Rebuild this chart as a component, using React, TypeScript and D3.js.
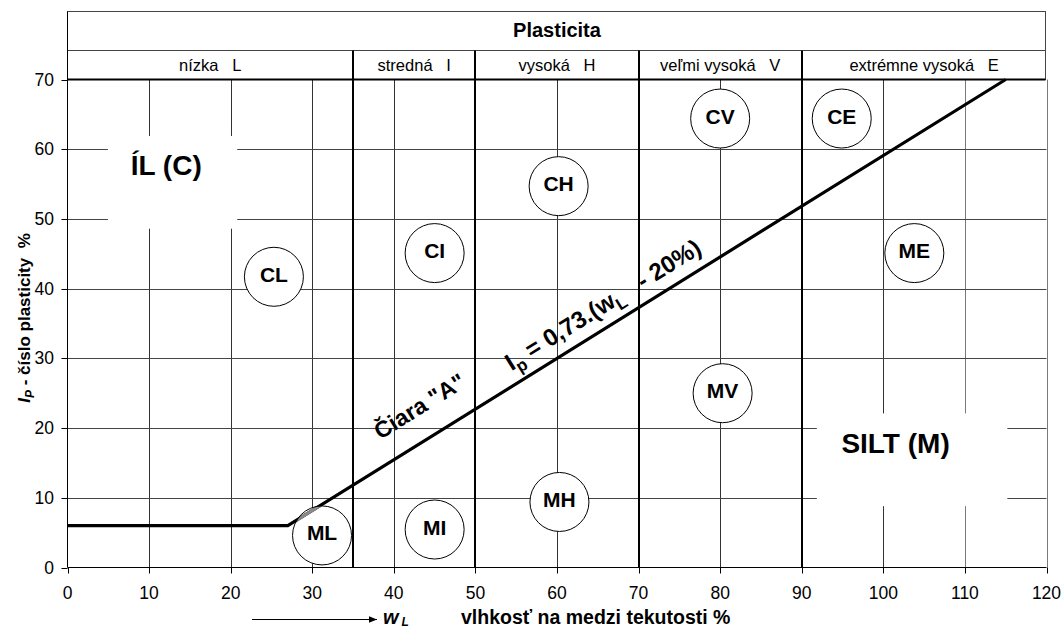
import React, { useEffect, useRef } from "react";
import * as d3 from "d3";

// tick labels
const xTicks = [0, 10, 20, 30, 40, 50, 60, 70, 80, 90, 100, 110, 120];
const yTicks = [0, 10, 20, 30, 40, 50, 60, 70];

// plasticity classes (wL boundaries) and their header labels
const classBounds = [0, 35, 50, 70, 90, 120];
const classLabels = [
  "nízka   L",
  "stredná   I",
  "vysoká   H",
  "veľmi vysoká   V",
  "extrémne vysoká   E",
];

// A-line: Ip = 0.73 (wL - 20), with the 6 % floor
const aLineW = [0, 27, 115];
const aLineIp = [6, 6, 70];

// soil symbols in circles
const zoneLabels = ["CL", "CI", "CH", "CV", "CE", "ML", "MI", "MH", "MV", "ME"];
const zoneW = [25.3, 45, 60.2, 80, 94.9, 31.2, 45, 60.3, 80.3, 103.8];
const zoneIp = [41.7, 45.1, 54.7, 64.4, 64.4, 4.6, 5.45, 9.4, 25, 45.1];

// group captions with white boxes behind them
const groupLabels = ["ÍL (C)", "SILT (M)"];
const groupW = [12.1, 101.5];
const groupIp = [57.7, 17.8];
const groupBoxW = [
  [4.95, 20.8],
  [91.85, 115.2],
];
const groupBoxIp = [
  [48.6, 61.9],
  [8.8, 22.1],
];

const FONT = "'Liberation Sans', Arial, sans-serif";

const App = () => {
  const ref = useRef<SVGSVGElement | null>(null);

  useEffect(() => {
    const width = 1063;
    const height = 628;
    const svg = d3.select(ref.current);
    svg.selectAll("*").remove();

    const x = d3.scaleLinear().domain([0, 120]).range([67.5, 1046.5]);
    const y = d3.scaleLinear().domain([0, 70]).range([567.5, 79.5]);
    const cx = (v: number) => Math.round(x(v)) + 0.5;
    const cy = (v: number) => Math.round(y(v)) + 0.5;

    svg
      .append("rect")
      .attr("width", width)
      .attr("height", height)
      .attr("fill", "#fff");

    const g = svg.append("g").style("font-family", FONT);

    // grid
    xTicks
      .filter((d) => d > 0)
      .forEach((d) => {
        g.append("line")
          .attr("x1", cx(d))
          .attr("x2", cx(d))
          .attr("y1", y(0))
          .attr("y2", y(70))
          .attr("stroke", d >= 110 ? "#7a7a7a" : "#333")
          .attr("stroke-width", 1);
      });
    yTicks
      .filter((d) => d > 0 && d < 70)
      .forEach((d) => {
        g.append("line")
          .attr("x1", x(0))
          .attr("x2", x(120))
          .attr("y1", cy(d))
          .attr("y2", cy(d))
          .attr("stroke", "#444")
          .attr("stroke-width", 1);
      });

    // white boxes behind group captions
    groupLabels.forEach((_, i) => {
      g.append("rect")
        .attr("x", x(groupBoxW[i][0]))
        .attr("y", y(groupBoxIp[i][1]))
        .attr("width", x(groupBoxW[i][1]) - x(groupBoxW[i][0]))
        .attr("height", y(groupBoxIp[i][0]) - y(groupBoxIp[i][1]))
        .attr("fill", "#fff");
    });

    // header box
    const top = 11.5;
    const mid = 50.5;
    g.append("rect")
      .attr("x", x(0))
      .attr("y", top)
      .attr("width", x(120) - x(0) - 1)
      .attr("height", y(70) - top)
      .attr("fill", "none")
      .attr("stroke", "#444")
      .attr("stroke-width", 1);
    g.append("line")
      .attr("x1", x(0))
      .attr("x2", x(120) - 1)
      .attr("y1", mid)
      .attr("y2", mid)
      .attr("stroke", "#444");
    g.append("text")
      .attr("x", (x(0) + x(120)) / 2)
      .attr("y", 37)
      .attr("text-anchor", "middle")
      .style("font-size", "20px")
      .style("font-weight", "bold")
      .text("Plasticita");

    classLabels.forEach((lab, i) => {
      g.append("text")
        .attr("x", (x(classBounds[i]) + x(classBounds[i + 1])) / 2)
        .attr("y", 71)
        .attr("text-anchor", "middle")
        .attr("xml:space", "preserve")
        .style("white-space", "pre")
        .style("font-size", "16.5px")
        .text(lab);
    });

    // class boundary lines (thick), through header row and plot
    classBounds.slice(1, -1).forEach((d) => {
      g.append("line")
        .attr("x1", Math.round(x(d)))
        .attr("x2", Math.round(x(d)))
        .attr("y1", mid)
        .attr("y2", y(0))
        .attr("stroke", "#000")
        .attr("stroke-width", 2);
    });

    // axes lines
    g.append("line")
      .attr("x1", x(0))
      .attr("x2", x(120))
      .attr("y1", y(0))
      .attr("y2", y(0))
      .attr("stroke", "#000");
    g.append("line")
      .attr("x1", x(0))
      .attr("x2", x(0))
      .attr("y1", y(0))
      .attr("y2", top)
      .attr("stroke", "#000");
    g.append("line")
      .attr("x1", x(0))
      .attr("x2", x(120) - 1)
      .attr("y1", y(70))
      .attr("y2", y(70))
      .attr("stroke", "#000")
      .attr("stroke-width", 2);

    // ticks
    xTicks.forEach((d) => {
      g.append("line")
        .attr("x1", cx(d))
        .attr("x2", cx(d))
        .attr("y1", y(0))
        .attr("y2", y(0) + 6)
        .attr("stroke", "#000");
      g.append("text")
        .attr("x", x(d))
        .attr("y", 599)
        .attr("text-anchor", "middle")
        .style("font-size", "17.5px")
        .text(d);
    });
    yTicks.forEach((d) => {
      g.append("line")
        .attr("x1", x(0) - 6)
        .attr("x2", x(0))
        .attr("y1", cy(d))
        .attr("y2", cy(d))
        .attr("stroke", "#000");
      g.append("text")
        .attr("x", 54)
        .attr("y", y(d) + 6)
        .attr("text-anchor", "end")
        .style("font-size", "17.5px")
        .text(d);
    });

    // circles
    zoneLabels.forEach((lab, i) => {
      g.append("circle")
        .attr("cx", x(zoneW[i]))
        .attr("cy", y(zoneIp[i]))
        .attr("r", 29.5)
        .attr("fill", "#fff")
        .attr("stroke", "#000")
        .attr("stroke-width", 1);
    });

    // A-line
    const line = d3
      .line<number>()
      .x((_, i) => x(aLineW[i]))
      .y((d) => y(d));
    g.append("path")
      .attr("d", line(aLineIp))
      .attr("fill", "none")
      .attr("stroke", "#000")
      .attr("stroke-width", 3.2)
      .attr("stroke-linejoin", "miter");

    // part of A-line inside the ML circle looks grey
    const mlIdx = zoneLabels.indexOf("ML");
    svg
      .append("defs")
      .append("clipPath")
      .attr("id", "mlClip")
      .append("circle")
      .attr("cx", x(zoneW[mlIdx]))
      .attr("cy", y(zoneIp[mlIdx]))
      .attr("r", 29);
    g.append("path")
      .attr("d", line(aLineIp))
      .attr("fill", "none")
      .attr("stroke", "#8a8a8a")
      .attr("stroke-width", 3.2)
      .attr("clip-path", "url(#mlClip)");

    // circle labels
    zoneLabels.forEach((lab, i) => {
      g.append("text")
        .attr("x", x(zoneW[i]))
        .attr("y", y(zoneIp[i]) + 5)
        .attr("text-anchor", "middle")
        .style("font-size", "21px")
        .style("font-weight", "bold")
        .text(lab);
    });

    // group captions
    groupLabels.forEach((lab, i) => {
      g.append("text")
        .attr("x", x(groupW[i]))
        .attr("y", y(groupIp[i]) + 10)
        .attr("text-anchor", "middle")
        .style("font-size", "28px")
        .style("font-weight", "bold")
        .text(lab);
    });

    // rotated texts along A-line
    const ang =
      (-Math.atan2(y(aLineIp[1]) - y(aLineIp[2]), x(aLineW[2]) - x(aLineW[1])) *
        180) /
      Math.PI;

    g.append("text")
      .attr("transform", `translate(420,407) rotate(${ang})`)
      .attr("text-anchor", "middle")
      .attr("y", 7)
      .style("font-size", "23px")
      .style("font-weight", "bold")
      .text('Čiara "A"');

    const f = g
      .append("text")
      .attr("transform", `translate(603,305) rotate(${ang})`)
      .attr("text-anchor", "middle")
      .attr("y", 8)
      .attr("xml:space", "preserve")
      .style("white-space", "pre")
      .style("font-size", "24px")
      .style("font-weight", "bold");
    f.append("tspan").text("I");
    f.append("tspan").attr("dy", 6).style("font-size", "17px").text("p");
    f.append("tspan").attr("dy", -6).text(" = 0,73.(w");
    f.append("tspan").attr("dy", 6).style("font-size", "17px").text("L");
    f.append("tspan").attr("dy", -6).text("   - 20%)");

    // y axis title
    const yt = g
      .append("text")
      .attr("transform", "translate(30,318) rotate(-90)")
      .attr("text-anchor", "middle")
      .attr("xml:space", "preserve")
      .style("white-space", "pre")
      .style("font-size", "17px")
      .style("font-weight", "bold");
    yt.append("tspan").style("font-style", "italic").text("I");
    yt.append("tspan")
      .attr("dy", 4)
      .style("font-size", "12px")
      .style("font-style", "italic")
      .text("P");
    yt.append("tspan").attr("dy", -4).text(" - číslo plasticity  %");

    // x axis title with arrow
    svg
      .select("defs")
      .append("marker")
      .attr("id", "arrowHead")
      .attr("viewBox", "0 0 10 10")
      .attr("refX", 10)
      .attr("refY", 5)
      .attr("markerWidth", 8)
      .attr("markerHeight", 8)
      .attr("markerUnits", "userSpaceOnUse")
      .attr("orient", "auto")
      .append("path")
      .attr("d", "M0,1 L10,5 L0,9 Z")
      .attr("fill", "#000");
    g.append("line")
      .attr("x1", 252)
      .attr("x2", 377)
      .attr("y1", 619.5)
      .attr("y2", 619.5)
      .attr("stroke", "#000")
      .attr("stroke-width", 1)
      .attr("marker-end", "url(#arrowHead)");
    const wl = g
      .append("text")
      .attr("x", 383)
      .attr("y", 624)
      .style("font-size", "20px")
      .style("font-weight", "bold")
      .style("font-style", "italic");
    wl.append("tspan").text("w");
    wl.append("tspan").attr("dx", 3).attr("dy", 2).style("font-size", "12px").text("L");

    g.append("text")
      .attr("x", 461)
      .attr("y", 624)
      .attr("xml:space", "preserve")
      .style("white-space", "pre")
      .style("font-size", "19.5px")
      .style("font-weight", "bold")
      .text("vlhkosť na medzi tekutosti %");
  }, []);

  return (
    <svg
      ref={ref}
      width={1063}
      height={628}
      style={{ position: "absolute", left: 0, top: 0, display: "block" }}
    />
  );
};

export default App;
